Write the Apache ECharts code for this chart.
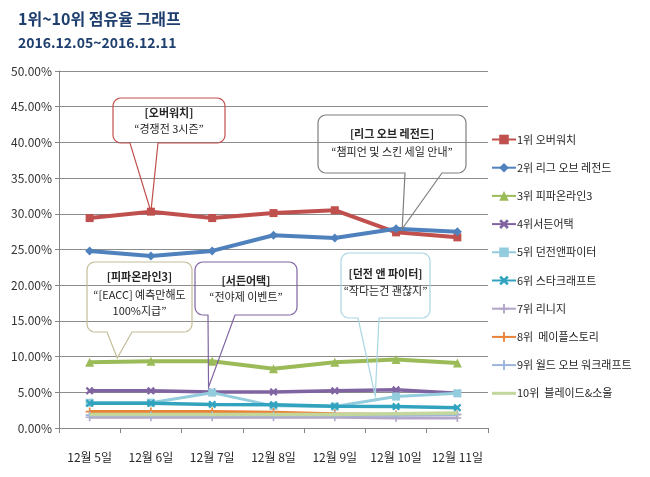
<!DOCTYPE html>
<html>
<head>
<meta charset="utf-8">
<script src="https://cdn.jsdelivr.net/npm/echarts@6/dist/echarts.min.js"></script>
<style>
html,body{margin:0;padding:0;background:#fff;}
#c{width:650px;height:477px;}
</style>
</head>
<body>
<div id="c"></div>
<script>
const categories = ['12월 5일','12월 6일','12월 7일','12월 8일','12월 9일','12월 10일','12월 11일'];
const seriesNames = ['1위 오버워치','2위 리그 오브 레전드','3위 피파온라인3','4위서든어택','5위 던전앤파이터','6위 스타크래프트','7위 리니지','8위  메이플스토리','9위 월드 오브 워크래프트','10위  블레이드&소울'];
const overwatch = [29.4, 30.3, 29.4, 30.1, 30.5, 27.4, 26.7];
const lol       = [24.8, 24.1, 24.8, 27.0, 26.6, 27.9, 27.5];
const fifa      = [9.2, 9.35, 9.35, 8.3, 9.2, 9.6, 9.1];
const sudden    = [5.2, 5.2, 5.05, 5.05, 5.2, 5.35, 4.85];
const dnf       = [3.55, 3.55, 4.95, 3.1, 3.0, 4.4, 4.85];
const starcraft = [3.45, 3.45, 3.3, 3.25, 3.05, 3.0, 2.85];
const lineage   = [1.5, 1.5, 1.5, 1.5, 1.5, 1.4, 1.4];
const maple     = [2.3, 2.3, 2.3, 2.2, 2.0, 1.9, 1.9];
const wow       = [1.8, 1.8, 1.8, 1.8, 1.8, 1.8, 1.9];
const bns       = [1.9, 1.9, 1.9, 1.9, 1.9, 2.0, 2.1];
const yTicks = [0,5,10,15,20,25,30,35,40,45,50];

// callout annotations: title, lines, anchor [category index (fractional), value]
const callouts = [
  {title:'[오버워치]', lines:['“경쟁전 3시즌”'], anchor:[1, 30.3]},
  {title:'[리그 오브 레전드]', lines:['“챔피언 및 스킨 세일 안내”'], anchor:[5.1, 27.9]},
  {title:'[피파온라인3]', lines:['“[EACC] 예측만해도','100%지급”'], anchor:[0.45, 9.8]},
  {title:'[서든어택]', lines:['“전야제 이벤트”'], anchor:[1.94, 5.7]},
  {title:'[던전 앤 파이터]', lines:['“작다는건 괜찮지”'], anchor:[4.66, 4.5]}
];

const FONT = '"Noto Sans CJK KR","Noto Sans",sans-serif';
const data = [overwatch, lol, fifa, sudden, dnf, starcraft, lineage, maple, wow, bns];
const colors = ['#C0504D','#4F81BD','#9BBB59','#8064A2','#93CDDD','#31A3BE','#B3A6C9','#E8843A','#9DB6D9','#C3D69B'];
const X = 'path://M2,0L5,3L8,0L10,2L7,5L10,8L8,10L5,7L2,10L0,8L3,5L0,2Z';
const PLUS = 'path://M4,0H6V4H10V6H6V10H4V6H0V4H4Z';
const symbols = ['rect','diamond','triangle',X,'rect',X,PLUS,PLUS,PLUS,'none'];
const sizes = [8,9,9,8,8,8,8,8,8,0];
const widths = [4,4,4,3.5,3,3.5,3,3,3,3.5];

const chart = echarts.init(document.getElementById('c'), null, {renderer:'canvas'});
const legendData = seriesNames.map(function(n,i){
  return symbols[i]==='none' ? {name:n, icon:'path://M0,0H80V10H0Z'} : {name:n};
});
const option = {
  animation:false,
  backgroundColor:'#fff',
  title:[
    {text:'1위~10위 점유율 그래프', left:13, top:6, textStyle:{fontFamily:FONT, fontSize:16, fontWeight:'bold', color:'#1F3F6E'}},
    {text:'2016.12.05~2016.12.11', left:13, top:31, textStyle:{fontFamily:FONT, fontSize:14, fontWeight:'bold', color:'#1F3F6E'}}
  ],
  grid:{left:59, right:162, top:71, bottom:49},
  legend:{
    orient:'vertical', left:486, top:129, itemWidth:24, itemHeight:12, itemGap:17.2,
    textStyle:{fontFamily:FONT, fontSize:11, color:'#262626', padding:[0,0,0,-4]},
    data:legendData
  },
  xAxis:{
    type:'category', data:categories, boundaryGap:true,
    axisLine:{lineStyle:{color:'#868686', width:1}},
    axisTick:{show:true, length:5, lineStyle:{color:'#868686'}},
    axisLabel:{fontFamily:FONT, fontSize:12, color:'#262626', margin:23, interval:0}
  },
  yAxis:{
    type:'value', min:0, max:50, interval:5,
    axisLine:{show:true, lineStyle:{color:'#868686', width:1}},
    axisTick:{show:true, length:4, lineStyle:{color:'#868686'}},
    splitLine:{lineStyle:{color:'#8C8C8C', width:1}},
    axisLabel:{fontFamily:FONT, fontSize:12, color:'#333333', margin:7,
      formatter:function(v){return yTicks.indexOf(v)>=0 ? v.toFixed(2)+'%' : '';}}
  },
  series: data.map(function(d,i){
    return {
      name:seriesNames[i], type:'line', data:d,
      symbol:symbols[i], symbolSize:sizes[i], showSymbol:symbols[i]!=='none',
      lineStyle:{color:colors[i], width:widths[i]},
      itemStyle:{color:colors[i]},
      z:2+i
    };
  })
};
chart.setOption(option);

function px(anchor){
  const i0 = Math.floor(anchor[0]);
  const f = anchor[0]-i0;
  const p0 = chart.convertToPixel({gridIndex:0},[i0, anchor[1]]);
  const p1 = chart.convertToPixel({gridIndex:0},[Math.min(i0+1,categories.length-1), anchor[1]]);
  const xPerCat = (i0+1<=categories.length-1) ? (p1[0]-p0[0]) : 61.3;
  return [p0[0]+f*xPerCat, p0[1]];
}

// bubble layout (pixel boxes): [x0,y0,x1,y1], tail base on bottom edge [bx1,bx2], stroke colour, text line ys
const layouts = [
  {box:[113,98,225,143], base:[130,158], stroke:'#C0504D', ys:[113,129]},
  {box:[318,115,466,173], base:[405,442], stroke:'#7F7F7F', ys:[134,152]},
  {box:[87,262,192,332], base:[107,132], stroke:'#C4BD97', ys:[277,295,311]},
  {box:[195,262,297,315], base:[208,235], stroke:'#8064A2', ys:[281,297]},
  {box:[341,253,430,318], base:[358,379], stroke:'#A9D6E3', ys:[274,291]}
];

function arcPts(cx,cy,r,a0,a1){
  const pts=[]; const n=6;
  for(let s=0;s<=n;s++){const a=a0+(a1-a0)*s/n; pts.push([cx+r*Math.cos(a), cy+r*Math.sin(a)]);}
  return pts;
}

const graphics = [];
callouts.forEach(function(c,k){
  const L = layouts[k];
  const [x0,y0,x1,y1] = L.box; const r=8;
  const tip = px(c.anchor);
  const P = Math.PI;
  let pts = [];
  pts = pts.concat(arcPts(x0+r,y0+r,r,P,1.5*P));      // top-left
  pts = pts.concat(arcPts(x1-r,y0+r,r,1.5*P,2*P));    // top-right
  pts = pts.concat(arcPts(x1-r,y1-r,r,0,0.5*P));      // bottom-right
  pts.push([L.base[1],y1]); pts.push(tip); pts.push([L.base[0],y1]);
  pts = pts.concat(arcPts(x0+r,y1-r,r,0.5*P,P));      // bottom-left
  graphics.push({type:'polygon', z:50, shape:{points:pts}, style:{fill:'rgba(0,0,0,0)', stroke:L.stroke, lineWidth:1.2}});
  const cx=(x0+x1)/2;
  const texts=[c.title].concat(c.lines);
  texts.forEach(function(t,j){
    graphics.push({type:'text', z:51, x:cx, y:L.ys[j], style:{text:t, textAlign:'center', textVerticalAlign:'middle',
      font:(j===0?'bold ':'')+'11px '+FONT, fill:'#262626'}});
  });
});
chart.setOption({graphic:graphics});
</script>
</body>
</html>
